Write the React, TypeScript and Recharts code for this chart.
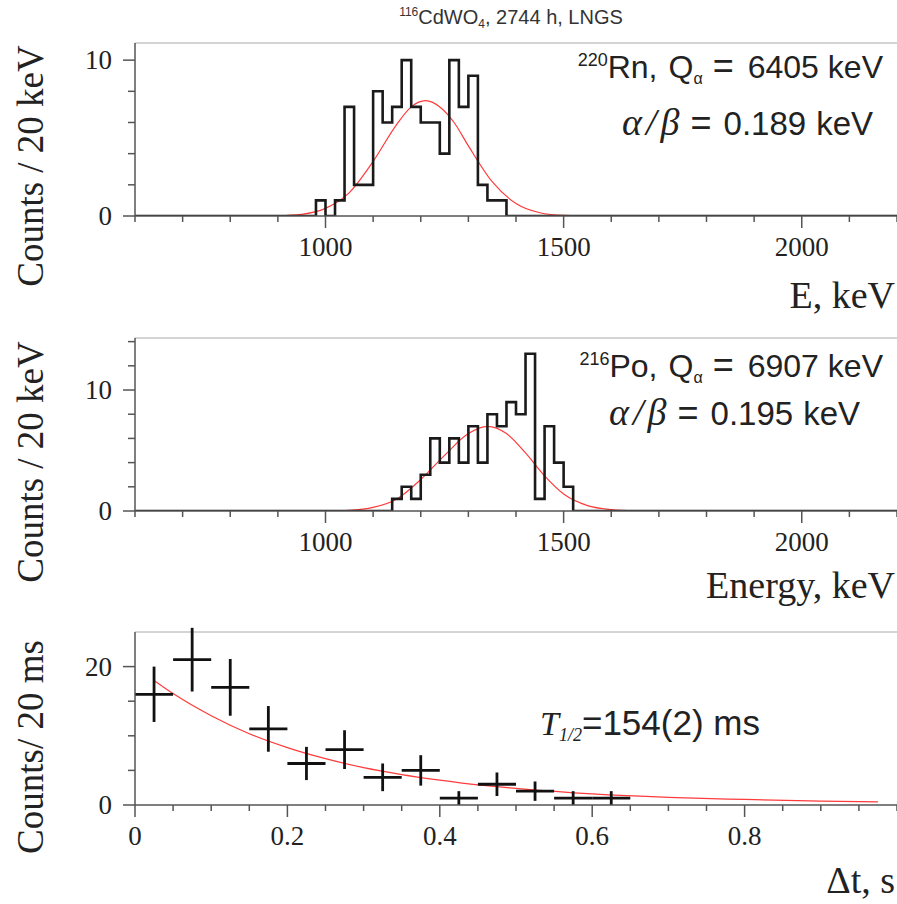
import { ComposedChart, Line, Scatter, XAxis, YAxis, ErrorBar, ReferenceLine } from 'recharts'

// 220Rn alpha peak, 20 keV bins (lower edges) and counts
const rnBins = [980, 1000, 1020, 1040, 1060, 1080, 1100, 1120, 1140, 1160, 1180, 1200, 1220, 1240, 1260, 1280, 1300, 1320, 1340, 1360]
const rnCounts = [1, 0, 1, 7, 2, 2, 8, 6, 7, 10, 7, 6, 6, 4, 10, 7, 9, 2, 1, 1]
const rnFitE = [850, 900, 950, 1000, 1050, 1100, 1150, 1180, 1210, 1240, 1270, 1300, 1350, 1400, 1450, 1500, 1550, 1600]
const rnFitY = [0.0, 0.02, 0.11, 0.49, 1.5, 3.5, 5.9, 7.0, 7.4, 7.0, 6.0, 4.5, 2.2, 0.8, 0.21, 0.04, 0.01, 0.0]

// 216Po alpha peak
const poBins = [1140, 1160, 1180, 1200, 1220, 1240, 1260, 1280, 1300, 1320, 1340, 1360, 1380, 1400, 1420, 1440, 1460, 1480, 1500]
const poCounts = [1, 2, 1, 3, 6, 4, 6, 4, 7, 4, 8, 7, 9, 8, 13, 1, 7, 4, 2]
const poFitE = [1000, 1050, 1100, 1150, 1200, 1250, 1300, 1340, 1380, 1420, 1460, 1500, 1550, 1600, 1650, 1700]
const poFitY = [0.01, 0.06, 0.3, 1.0, 2.6, 4.6, 6.4, 7.0, 6.4, 4.8, 2.9, 1.4, 0.45, 0.12, 0.02, 0.0]

// time difference distribution
const dtCenters = [0.025, 0.075, 0.125, 0.175, 0.225, 0.275, 0.325, 0.375, 0.425, 0.475, 0.525, 0.575, 0.625]
const dtCounts = [16, 21, 17, 11, 6, 8, 4, 5, 1, 3, 2, 1, 1]
const dtErrors = [4.0, 4.6, 4.1, 3.3, 2.4, 2.8, 2.0, 2.2, 1.0, 1.7, 1.4, 1.0, 1.0]
const dtHalfWidth = 0.025
const expFitT = [0.025, 0.05, 0.1, 0.15, 0.2, 0.25, 0.3, 0.35, 0.4, 0.45, 0.5, 0.6, 0.7, 0.8, 0.9, 0.975]
const expFitY = [18, 16.1, 12.9, 10.3, 8.3, 6.7, 5.4, 4.4, 3.6, 2.9, 2.4, 1.6, 1.1, 0.8, 0.55, 0.45]

const energyTicks = [600, 700, 800, 900, 1000, 1100, 1200, 1300, 1400, 1500, 1600, 1700, 1800, 1900, 2000, 2100, 2200]
const energyLabels = [1000, 1500, 2000]
const dtTicks = [0, 0.05, 0.1, 0.15, 0.2, 0.25, 0.3, 0.35, 0.4, 0.45, 0.5, 0.55, 0.6, 0.65, 0.7, 0.75, 0.8, 0.85, 0.9, 0.95, 1]
const dtLabels = [0, 0.2, 0.4, 0.6, 0.8]

const SERIF = "'Liberation Serif', 'Times New Roman', serif"
const SANS = "'Liberation Sans', Arial, sans-serif"
const AXIS = '#555'
const BIN = 20

function histData(bins: number[], counts: number[], lo: number, hi: number) {
	const pts = [{ x: lo, y: 0 }]
	bins.forEach((b, i) => pts.push({ x: b, y: counts[i] }))
	pts.push({ x: bins[bins.length - 1] + BIN, y: 0 })
	pts.push({ x: hi, y: 0 })
	return pts
}

const zip = (xs: number[], ys: number[]) => xs.map((x, i) => ({ x, y: ys[i] }))

const isIn = (list: number[], v: number) => list.some((l) => Math.abs(l - v) < 1e-9)

function xTick(labels: number[]) {
	return (props: any) => {
		const { x, y, payload } = props
		const major = isIn(labels, payload.value)
		return (
			<g>
				<line x1={x} x2={x} y1={y} y2={y + (major ? 12 : 6)} stroke={AXIS} strokeWidth={1.5} />
				{major && (
					<text x={x} y={y + 40} textAnchor="middle" fontFamily={SERIF} fontSize={27} fill="#222">
						{payload.value}
					</text>
				)}
			</g>
		)
	}
}

function yTick(labels: number[]) {
	return (props: any) => {
		const { x, y, payload } = props
		const major = isIn(labels, payload.value)
		return (
			<g>
				<line x1={x - (major ? 12 : 7)} x2={x} y1={y} y2={y} stroke={AXIS} strokeWidth={1.5} />
				{major && (
					<text x={x - 23} y={y + 9} textAnchor="end" fontFamily={SERIF} fontSize={27} fill="#222">
						{payload.value}
					</text>
				)}
			</g>
		)
	}
}

type PanelProps = {
	top: number
	height: number
	marginTop: number
	axisHeight: number
	yMax: number
	yTicks: number[]
	hist: { x: number; y: number }[]
	fit: { x: number; y: number }[]
}

function EnergyPanel({ top, height, marginTop, axisHeight, yMax, yTicks, hist, fit }: PanelProps) {
	return (
		<div style={{ position: 'absolute', left: 0, top }}>
			<ComposedChart width={897} height={height} margin={{ top: marginTop, right: 0, bottom: 0, left: 0 }}>
				<XAxis
					type="number"
					dataKey="x"
					domain={[600, 2200]}
					ticks={energyTicks}
					interval={0}
					height={axisHeight}
					tickSize={0}
					tickMargin={0}
					tickLine={false}
					tick={xTick(energyLabels)}
					axisLine={{ stroke: AXIS, strokeWidth: 1.5 }}
					allowDataOverflow
				/>
				<YAxis
					type="number"
					domain={[0, yMax]}
					ticks={yTicks}
					interval={0}
					width={135}
					tickSize={0}
					tickMargin={0}
					tickLine={false}
					tick={yTick([0, 10])}
					axisLine={{ stroke: AXIS, strokeWidth: 1.5 }}
					allowDataOverflow
				/>
				<ReferenceLine y={yMax} stroke="#aaa" strokeWidth={1} />
				<Line data={fit} dataKey="y" type="monotone" stroke="#ff3b3b" strokeWidth={1.2} dot={false} isAnimationActive={false} />
				<Line data={hist} dataKey="y" type="stepAfter" stroke="#1a1a1a" strokeWidth={2.6} dot={false} isAnimationActive={false} />
			</ComposedChart>
		</div>
	)
}

function DecayPanel() {
	const points = dtCenters.map((x, i) => ({ x, y: dtCounts[i], ey: dtErrors[i], ex: dtHalfWidth }))
	return (
		<div style={{ position: 'absolute', left: 0, top: 600 }}>
			<ComposedChart width={897} height={304} margin={{ top: 32, right: 0, bottom: 0, left: 0 }}>
				<XAxis
					type="number"
					dataKey="x"
					domain={[0, 1]}
					ticks={dtTicks}
					interval={0}
					height={99}
					tickSize={0}
					tickMargin={0}
					tickLine={false}
					tick={xTick(dtLabels)}
					axisLine={{ stroke: AXIS, strokeWidth: 1.5 }}
					allowDataOverflow
				/>
				<YAxis
					type="number"
					dataKey="y"
					domain={[0, 25]}
					ticks={[0, 5, 10, 15, 20]}
					interval={0}
					width={135}
					tickSize={0}
					tickMargin={0}
					tickLine={false}
					tick={yTick([0, 20])}
					axisLine={{ stroke: AXIS, strokeWidth: 1.5 }}
					allowDataOverflow
				/>
				<ReferenceLine y={25} stroke="#aaa" strokeWidth={1} />
				<Line data={zip(expFitT, expFitY)} dataKey="y" type="monotone" stroke="#ff3b3b" strokeWidth={1.2} dot={false} isAnimationActive={false} />
				<Scatter data={points} dataKey="y" shape={() => <g />} isAnimationActive={false}>
					<ErrorBar dataKey="ey" direction="y" width={0} stroke="#111" strokeWidth={2.8} />
					<ErrorBar dataKey="ex" direction="x" width={0} stroke="#111" strokeWidth={2.8} />
				</Scatter>
			</ComposedChart>
		</div>
	)
}

function Annotation({ x, y, sup, nucl, q }: { x: number; y: number; sup: string; nucl: string; q: string }) {
	return (
		<text x={x} y={y} textAnchor="end" fontFamily={SANS} fontSize={32} fill="#222">
			<tspan fontSize={18} dy={-12}>{sup}</tspan>
			<tspan dy={12}>{nucl},</tspan>
			<tspan dx={11}>Q</tspan>
			<tspan fontSize={16} dy={6}>α</tspan>
			<tspan dx={10} dy={-6} fontSize={36}>=</tspan>
			<tspan dx={14}>{q}</tspan>
			<tspan dx={9}>keV</tspan>
		</text>
	)
}

function Ratio({ x, y, value }: { x: number; y: number; value: string }) {
	return (
		<text x={x} y={y} textAnchor="end" fontFamily={SANS} fontSize={33} fill="#222">
			<tspan fontFamily={SERIF} fontStyle="italic" fontSize={38} letterSpacing={4}>α/β</tspan>
			<tspan dx={7} fontSize={36}>=</tspan>
			<tspan dx={12}>{value}</tspan>
			<tspan dx={10}>keV</tspan>
		</text>
	)
}

function Labels() {
	return (
		<svg width={897} height={904} style={{ position: 'absolute', left: 0, top: 0, pointerEvents: 'none' }}>
			<text x={511} y={24} textAnchor="middle" fontFamily={SANS} fontSize={20} fill="#333">
				<tspan fontSize={12} dy={-8}>116</tspan>
				<tspan dy={8}>CdWO</tspan>
				<tspan fontSize={12} dy={4}>4</tspan>
				<tspan dy={-4}>, 2744 h, LNGS</tspan>
			</text>

			<text x={43} y={166} transform="rotate(-90 43 166)" textAnchor="middle" fontFamily={SERIF} fontSize={37} fill="#222">
				Counts / 20 keV
			</text>
			<text x={43} y={462} transform="rotate(-90 43 462)" textAnchor="middle" fontFamily={SERIF} fontSize={37} fill="#222">
				Counts / 20 keV
			</text>
			<text x={43} y={747} transform="rotate(-90 43 747)" textAnchor="middle" fontFamily={SERIF} fontSize={37} fill="#222">
				Counts/ 20 ms
			</text>

			<text x={895} y={308} textAnchor="end" fontFamily={SERIF} fontSize={38} fill="#222">E, keV</text>
			<text x={895} y={598} textAnchor="end" fontFamily={SERIF} fontSize={38} fill="#222">Energy, keV</text>
			<text x={895} y={893} textAnchor="end" fontFamily={SERIF} fontSize={38} fill="#222">Δt, s</text>

			<Annotation x={883} y={78} sup="220" nucl="Rn" q="6405" />
			<Ratio x={873} y={135} value="0.189" />
			<Annotation x={883} y={377} sup="216" nucl="Po" q="6907" />
			<Ratio x={860} y={425} value="0.195" />

			<text x={540} y={735} fontFamily={SANS} fontSize={35} fill="#222">
				<tspan fontFamily={SERIF} fontStyle="italic" fontSize={34}>T</tspan>
				<tspan fontFamily={SERIF} fontStyle="italic" fontSize={18} dy={6}>1/2</tspan>
				<tspan dy={-6}>=154(2) ms</tspan>
			</text>
		</svg>
	)
}

export default function App() {
	return (
		<div style={{ position: 'absolute', left: 0, top: 0, width: 897, height: 904, background: '#fff', overflow: 'hidden' }}>
			<EnergyPanel
				top={0}
				height={300}
				marginTop={43}
				axisHeight={84}
				yMax={11.1}
				yTicks={[0, 2, 4, 6, 8, 10]}
				hist={histData(rnBins, rnCounts, 600, 2200)}
				fit={zip(rnFitE, rnFitY)}
			/>
			<EnergyPanel
				top={300}
				height={300}
				marginTop={38}
				axisHeight={89}
				yMax={14.3}
				yTicks={[0, 2, 4, 6, 8, 10, 12, 14]}
				hist={histData(poBins, poCounts, 600, 2200)}
				fit={zip(poFitE, poFitY)}
			/>
			<DecayPanel />
			<Labels />
		</div>
	)
}
